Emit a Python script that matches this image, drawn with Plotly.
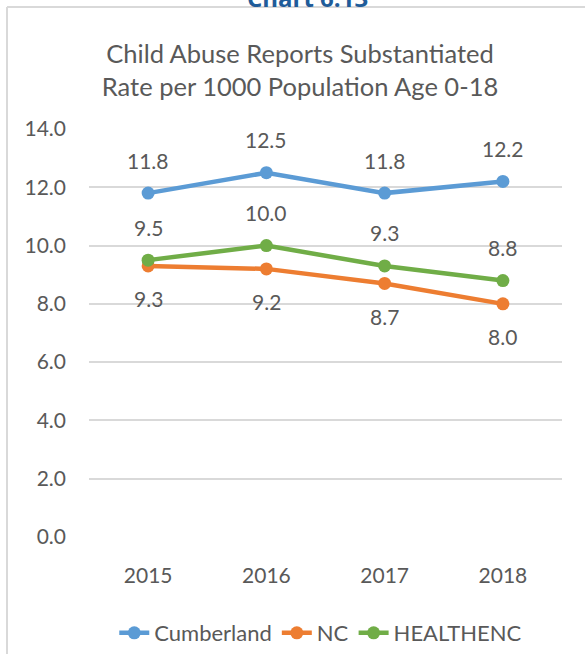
import plotly.graph_objects as go

years = ["2015", "2016", "2017", "2018"]
cumberland = [11.8, 12.5, 11.8, 12.2]
nc = [9.3, 9.2, 8.7, 8.0]
healthenc = [9.5, 10.0, 9.3, 8.8]
y_ticks = [0, 2, 4, 6, 8, 10, 12, 14]
y_tick_labels = ["0.0", "2.0", "4.0", "6.0", "8.0", "10.0", "12.0", "14.0"]

series = [
    ("Cumberland", cumberland, "#5B9BD5", 1),
    ("NC", nc, "#ED7D31", -1),
    ("HEALTHENC", healthenc, "#70AD47", 1),
]

FONT = "Lato"
TXT = "#595959"
PT, PB, PL, PR = 129, 537, 89, 562
PH = PB - PT
PW = PR - PL

fig = go.Figure()
annotations = []
for name, vals, color, side in series:
    fig.add_trace(go.Scatter(
        x=years, y=vals, name=name, mode="lines+markers",
        line=dict(color=color, width=4.5),
        marker=dict(color=color, size=13),
    ))
    for i, v in enumerate(vals):
        annotations.append(dict(
            x=i, y=v, xref="x", yref="y", text=f"{v:.1f}", showarrow=False,
            yshift=33 * side, font=dict(family=FONT, size=21, color=TXT),
        ))

# cut-off heading at top
annotations.append(dict(
    xref="paper", yref="paper", x=(307 - PL) / PW, y=(PB - 16) / PH,
    xanchor="center", yanchor="bottom", text="<b>Chart 6.13</b>", showarrow=False,
    font=dict(family="Open Sans", size=24, color="#1F5C99"),
))

fig.update_layout(
    width=585, height=654,
    margin=dict(l=PL, r=585 - PR, t=PT, b=654 - PB, autoexpand=False),
    paper_bgcolor="white", plot_bgcolor="white",
    title=dict(
        text="Child Abuse Reports Substantiated<br>Rate per 1000 Population Age 0-18",
        x=300 / 585, xanchor="center",
        y=1 - 63 / 654, yanchor="middle",
        font=dict(family=FONT, size=25.5, color=TXT),
    ),
    xaxis=dict(
        type="category",
        showgrid=False, showline=False, ticks="",
        tickfont=dict(family=FONT, size=21, color=TXT),
        range=[-0.5, 3.5], ticklabelstandoff=24,
    ),
    yaxis=dict(
        range=[0, 14], tickvals=y_ticks, ticktext=y_tick_labels,
        showgrid=True, gridcolor="#D9D9D9", gridwidth=2,
        zeroline=False, showline=False, ticks="", ticklen=0,
        tickfont=dict(family=FONT, size=21, color=TXT),
        ticklabelstandoff=22,
    ),
    legend=dict(
        orientation="h", x=0.49, xanchor="center",
        yref="container", y=(654 - 633) / 654, yanchor="middle",
        font=dict(family=FONT, size=22, color=TXT),
    ),
    showlegend=True,
    annotations=annotations,
    shapes=[
        dict(type="line", xref="paper", yref="paper",
             x0=(7 - PL) / PW, x1=(7 - PL) / PW, y0=(PB - 660) / PH, y1=(PB - 7) / PH,
             line=dict(color="#D9D9D9", width=2)),
        dict(type="line", xref="paper", yref="paper",
             x0=(7 - PL) / PW, x1=(600 - PL) / PW, y0=(PB - 7) / PH, y1=(PB - 7) / PH,
             line=dict(color="#D9D9D9", width=2)),
    ],
)

fig.write_html("out.html")
